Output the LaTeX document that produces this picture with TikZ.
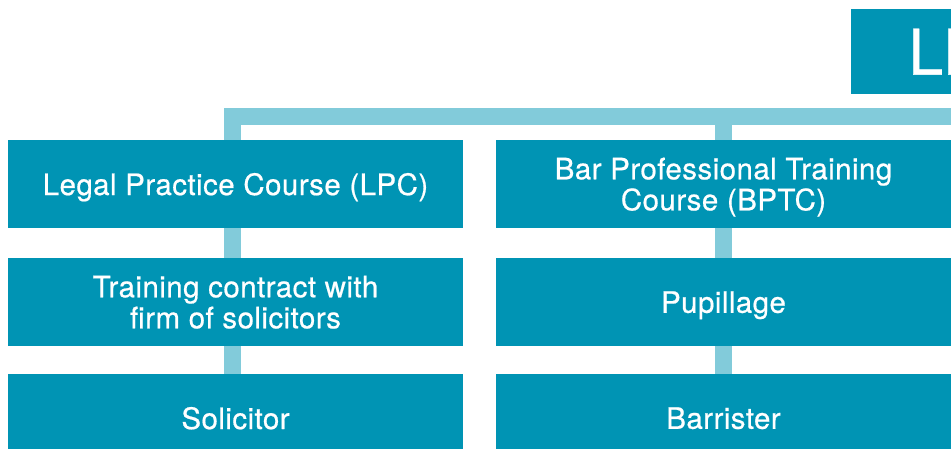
\documentclass[tikz,border=0pt]{standalone}
\usepackage{fontspec}
\setmainfont{TeX Gyre Heros}[FakeBold=0.6]
\newfontfamily\boxfont{TeX Gyre Heros}[LetterSpace=1.5, FakeBold=0.6]
\definecolor{lawteal}{RGB}{0,148,180}
\definecolor{lawlink}{RGB}{130,203,218}

\begin{document}
\begin{tikzpicture}[x=1pt, y=-1pt,
    stage/.style={fill=lawteal, text=white, minimum width=455pt, minimum height=88pt,
        align=center, inner sep=0pt, text depth=0pt, font=\boxfont\fontsize{29.5}{31}\selectfont},
    link/.style={draw=lawlink, line width=17pt}]

\useasboundingbox (0,0) rectangle (951,448);
\clip (0,0) rectangle (951,448);

% ==== Top box (runs off the right edge) ====
\node[fill=lawteal, text=white, anchor=north west, minimum height=85pt, text width=150pt,
    align=left, inner xsep=57pt, inner ysep=0pt, font=\fontsize{63}{63}\selectfont]
    (llb) at (851,9) {LL};

% ==== Left column ====
\foreach \name/\y/\txt in {lpc/184/Legal Practice Course (LPC),
        contract/302/{Training contract with\\firm of solicitors},
        solicitor/418/Solicitor}
    \node[stage] (\name) at (235.5,\y) {\txt};

% ==== Right column ====
\foreach \name/\y/\txt in {bptc/184/{Bar Professional Training\\Course (BPTC)},
        pupillage/302/Pupillage,
        barrister/418/Barrister}
    \node[stage] (\name) at (723.5,\y) {\txt};

% Bar across the top
\coordinate (trunk) at (1000,116.5);
\draw[link] ([xshift=-3pt]lpc.north) |- (trunk);
\draw[link] (bptc.north) -- (bptc.north |- trunk);

% Links down each column
\foreach \a/\b in {lpc/contract, contract/solicitor}
    \draw[link] ([xshift=-3pt]\a.south) -- ([xshift=-3pt]\b.north);
\foreach \a/\b in {bptc/pupillage, pupillage/barrister}
    \draw[link] (\a.south) -- (\b.north);

\end{tikzpicture}
\end{document}
